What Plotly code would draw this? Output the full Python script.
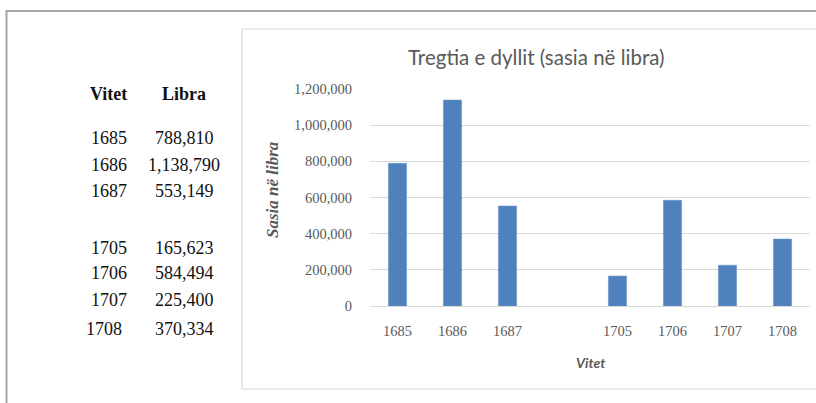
import plotly.graph_objects as go

# ---- data ----
years = ["1685", "1686", "1687", "1705", "1706", "1707", "1708"]
libra = [788810, 1138790, 553149, 165623, 584494, 225400, 370334]
category_order = ["1685", "1686", "1687", " ", "1705", "1706", "1707", "1708"]
y_tick_vals = [0, 200000, 400000, 600000, 800000, 1000000, 1200000]

title_text = "Tregtia e dyllit (sasia në libra)"
x_title = "Vitet"
y_title = "Sasia në libra"
table_headers = ["Vitet", "Libra"]

W, H = 816, 403


def px(x):
    return x / W


def py(y):
    return 1 - y / H


fig = go.Figure()
fig.add_trace(go.Bar(
    x=years, y=libra,
    marker=dict(color="#4F81BD", line=dict(color="#6a95c8", width=0.6)),
    hoverinfo="x+y",
))

grey = "#595959"
fig.update_layout(
    width=W, height=H,
    autosize=False,
    margin=dict(l=0, r=0, t=0, b=0, pad=0, autoexpand=False),
    paper_bgcolor="white", plot_bgcolor="white",
    showlegend=False,
    bargap=0.67,
    xaxis=dict(
        domain=[px(370), px(810)],
        type="category",
        categoryorder="array", categoryarray=category_order,
        range=[-0.5, 7.5],
        automargin=False,
        showgrid=False, showline=False, zeroline=False,
        ticks="", ticklabelstandoff=14,
        tickfont=dict(family="Liberation Serif", size=14.5, color=grey),
    ),
    yaxis=dict(
        domain=[py(306), py(89)],
        range=[0, 1200000],
        tickvals=y_tick_vals,
        tickformat=",d",
        automargin=False,
        showgrid=True, gridcolor="#d9d9d9", gridwidth=1,
        zeroline=True, zerolinecolor="#d9d9d9", zerolinewidth=1,
        showline=False, ticks="", ticklabelstandoff=17,
        tickfont=dict(family="Liberation Serif", size=14.5, color=grey),
    ),
)

shapes = [
    # outer frame
    dict(type="line", xref="paper", yref="paper", x0=px(6.5), x1=px(6.5), y0=0, y1=py(11),
         line=dict(color="#a6a6a6", width=2)),
    dict(type="line", xref="paper", yref="paper", x0=px(5.5), x1=1, y0=py(11), y1=py(11),
         line=dict(color="#a6a6a6", width=2)),
    # chart box (right edge runs off the picture)
    dict(type="line", xref="paper", yref="paper", x0=px(242), x1=1, y0=py(29), y1=py(29),
         line=dict(color="#d9d9d9", width=1.2)),
    dict(type="line", xref="paper", yref="paper", x0=px(242), x1=1, y0=py(389), y1=py(389),
         line=dict(color="#d9d9d9", width=1.2)),
    dict(type="line", xref="paper", yref="paper", x0=px(242), x1=px(242), y0=py(389), y1=py(29),
         line=dict(color="#d9d9d9", width=1.2)),
]
fig.update_layout(shapes=shapes)

ann = []
ann.append(dict(text=title_text, x=px(536), y=py(57), xref="paper", yref="paper",
                showarrow=False, xanchor="center", yanchor="middle",
                font=dict(family="Lato", size=20.5, color=grey)))
ann.append(dict(text="<b><i>" + x_title + "</i></b>", x=px(590), y=py(362), xref="paper", yref="paper",
                showarrow=False, xanchor="center", yanchor="middle",
                font=dict(family="Lato", size=14, color=grey)))
ann.append(dict(text="<b><i>" + y_title + "</i></b>", x=px(272), y=py(190), xref="paper", yref="paper",
                showarrow=False, xanchor="center", yanchor="middle", textangle=-90,
                font=dict(family="Liberation Serif", size=17, color=grey)))

# left table
table_font = dict(family="Liberation Serif", size=18, color="#111111")
ann.append(dict(text="<b>" + table_headers[0] + "</b>", x=px(108), y=py(94), xref="paper", yref="paper",
                showarrow=False, xanchor="center", yanchor="middle", font=table_font))
ann.append(dict(text="<b>" + table_headers[1] + "</b>", x=px(184), y=py(94), xref="paper", yref="paper",
                showarrow=False, xanchor="center", yanchor="middle", font=table_font))
row_y = [138, 165, 191, 248, 273, 300, 329]
year_x = [109, 109, 109, 109, 109, 109, 104]
for yr, val, ry, yx in zip(years, libra, row_y, year_x):
    ann.append(dict(text=yr, x=px(yx), y=py(ry), xref="paper", yref="paper",
                    showarrow=False, xanchor="center", yanchor="middle", font=table_font))
    ann.append(dict(text=f"{val:,}", x=px(184), y=py(ry), xref="paper", yref="paper",
                    showarrow=False, xanchor="center", yanchor="middle", font=table_font))

fig.update_layout(annotations=ann)
fig.write_html(
    "out.html",
    config={"displayModeBar": False},
    post_script="document.body.style.margin='0';",
)
